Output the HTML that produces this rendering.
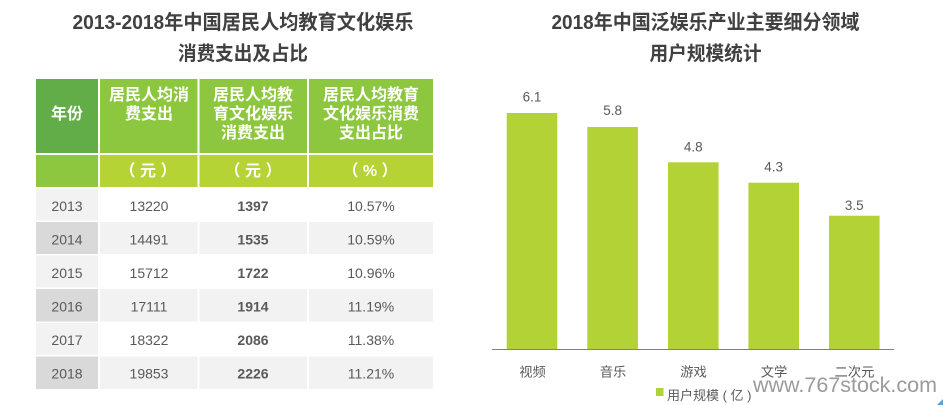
<!DOCTYPE html>
<html><head><meta charset="utf-8"><style>
html,body{margin:0;padding:0;background:#fff;}
svg{display:block;}
text{font-family:"Liberation Sans","Noto Sans CJK SC",sans-serif;}
</style></head><body>
<svg width="943" height="405" viewBox="0 0 943 405" xmlns="http://www.w3.org/2000/svg">
<rect width="943" height="405" fill="#fff"/>
<!-- Left title -->
<text x="243" y="29" text-anchor="middle" font-size="20" font-weight="bold" fill="#404040" textLength="341" lengthAdjust="spacingAndGlyphs">2013-2018年中国居民人均教育文化娱乐</text>
<text x="243" y="60" text-anchor="middle" font-size="19.5" font-weight="bold" fill="#404040" textLength="130" lengthAdjust="spacingAndGlyphs">消费支出及占比</text>

<!-- Header -->
<rect x="36" y="79" width="62" height="74" fill="#62ad47"/>
<rect x="100" y="79" width="97.5" height="74" fill="#8dc63f"/>
<rect x="199.5" y="79" width="107.5" height="74" fill="#8dc63f"/>
<rect x="309" y="79" width="124" height="74" fill="#8dc63f"/>
<rect x="36" y="155" width="62" height="32" fill="#8dc63f"/>
<rect x="100" y="155" width="97.5" height="32" fill="#b5d334"/>
<rect x="199.5" y="155" width="107.5" height="32" fill="#b5d334"/>
<rect x="309" y="155" width="124" height="32" fill="#b5d334"/>
<g fill="#fff" font-size="16" font-weight="bold" text-anchor="middle">
<text x="67" y="119">年份</text>
<text x="149" y="100">居民人均消</text>
<text x="149" y="119">费支出</text>
<text x="253" y="100">居民人均教</text>
<text x="253" y="119">育文化娱乐</text>
<text x="253" y="138">消费支出</text>
<text x="371" y="100">居民人均教育</text>
<text x="371" y="119">文化娱乐消费</text>
<text x="371" y="138">支出占比</text>
<text x="148" y="176">（ 元 ）</text>
<text x="253" y="176">（ 元 ）</text>
<text x="370" y="176">（ % ）</text>
</g>

<!-- Data rows -->
<g>
<rect x="36" y="188.5" width="62" height="32" fill="#f2f2f2"/>
<rect x="36" y="222" width="62" height="32" fill="#d9d9d9"/>
<rect x="100" y="222" width="97.5" height="32" fill="#f2f2f2"/>
<rect x="199.5" y="222" width="107.5" height="32" fill="#f2f2f2"/>
<rect x="309" y="222" width="124" height="32" fill="#f2f2f2"/>
<rect x="36" y="255.5" width="62" height="32" fill="#f2f2f2"/>
<rect x="36" y="289" width="62" height="32.5" fill="#d9d9d9"/>
<rect x="100" y="289" width="97.5" height="32.5" fill="#f2f2f2"/>
<rect x="199.5" y="289" width="107.5" height="32.5" fill="#f2f2f2"/>
<rect x="309" y="289" width="124" height="32.5" fill="#f2f2f2"/>
<rect x="36" y="323" width="62" height="32" fill="#f2f2f2"/>
<rect x="36" y="356.5" width="62" height="32.5" fill="#d9d9d9"/>
<rect x="100" y="356.5" width="97.5" height="32.5" fill="#f2f2f2"/>
<rect x="199.5" y="356.5" width="107.5" height="32.5" fill="#f2f2f2"/>
<rect x="309" y="356.5" width="124" height="32.5" fill="#f2f2f2"/>
</g>
<g fill="#595959" font-size="14" text-anchor="middle">
<text x="67" y="211">2013</text><text x="149" y="211">13220</text><text x="253" y="211" font-weight="bold">1397</text><text x="371" y="211">10.57%</text>
<text x="67" y="244.5">2014</text><text x="149" y="244.5">14491</text><text x="253" y="244.5" font-weight="bold">1535</text><text x="371" y="244.5">10.59%</text>
<text x="67" y="278">2015</text><text x="149" y="278">15712</text><text x="253" y="278" font-weight="bold">1722</text><text x="371" y="278">10.96%</text>
<text x="67" y="311.5">2016</text><text x="149" y="311.5">17111</text><text x="253" y="311.5" font-weight="bold">1914</text><text x="371" y="311.5">11.19%</text>
<text x="67" y="345">2017</text><text x="149" y="345">18322</text><text x="253" y="345" font-weight="bold">2086</text><text x="371" y="345">11.38%</text>
<text x="67" y="378.5">2018</text><text x="149" y="378.5">19853</text><text x="253" y="378.5" font-weight="bold">2226</text><text x="371" y="378.5">11.21%</text>
</g>

<!-- Right title -->
<text x="705.5" y="29" text-anchor="middle" font-size="20" font-weight="bold" fill="#404040" textLength="308" lengthAdjust="spacingAndGlyphs">2018年中国泛娱乐产业主要细分领域</text>
<text x="705.5" y="60" text-anchor="middle" font-size="19.5" font-weight="bold" fill="#404040" textLength="112" lengthAdjust="spacingAndGlyphs">用户规模统计</text>

<!-- Bars -->
<g fill="#b2d235">
<rect x="506.7" y="113" width="50.6" height="236"/>
<rect x="587.3" y="127" width="50.6" height="222"/>
<rect x="668" y="162.3" width="50.6" height="186.7"/>
<rect x="748.4" y="182.7" width="50.6" height="166.3"/>
<rect x="829" y="215.7" width="50.6" height="133.3"/>
</g>
<line x1="492" y1="349.5" x2="894" y2="349.5" stroke="#808080" stroke-width="1"/>
<g fill="#595959" font-size="13.5" text-anchor="middle">
<text x="532" y="101.5">6.1</text>
<text x="612.6" y="115">5.8</text>
<text x="693.3" y="151.5">4.8</text>
<text x="773.7" y="171.5">4.3</text>
<text x="854.3" y="210">3.5</text>
</g>
<g fill="#595959" font-size="13.3" text-anchor="middle">
<text x="532.5" y="376.5">视频</text>
<text x="613" y="376.5">音乐</text>
<text x="693.5" y="376.5">游戏</text>
<text x="774" y="376.5">文学</text>
<text x="854.5" y="376.5">二次元</text>
</g>
<!-- Legend -->
<rect x="656" y="388" width="7.5" height="8" fill="#b2d235"/>
<text x="667" y="400" font-size="13" fill="#595959">用户规模 ( 亿 )</text>
<!-- Watermark -->
<text x="753" y="392" font-size="21.4" fill="#8a8a8a" fill-opacity="0.85" textLength="184" lengthAdjust="spacingAndGlyphs">www.767stock.com</text>
<path d="M937 405 L943 399 L943 405 Z" fill="#5aa0d8"/>
</svg>
</body></html>
